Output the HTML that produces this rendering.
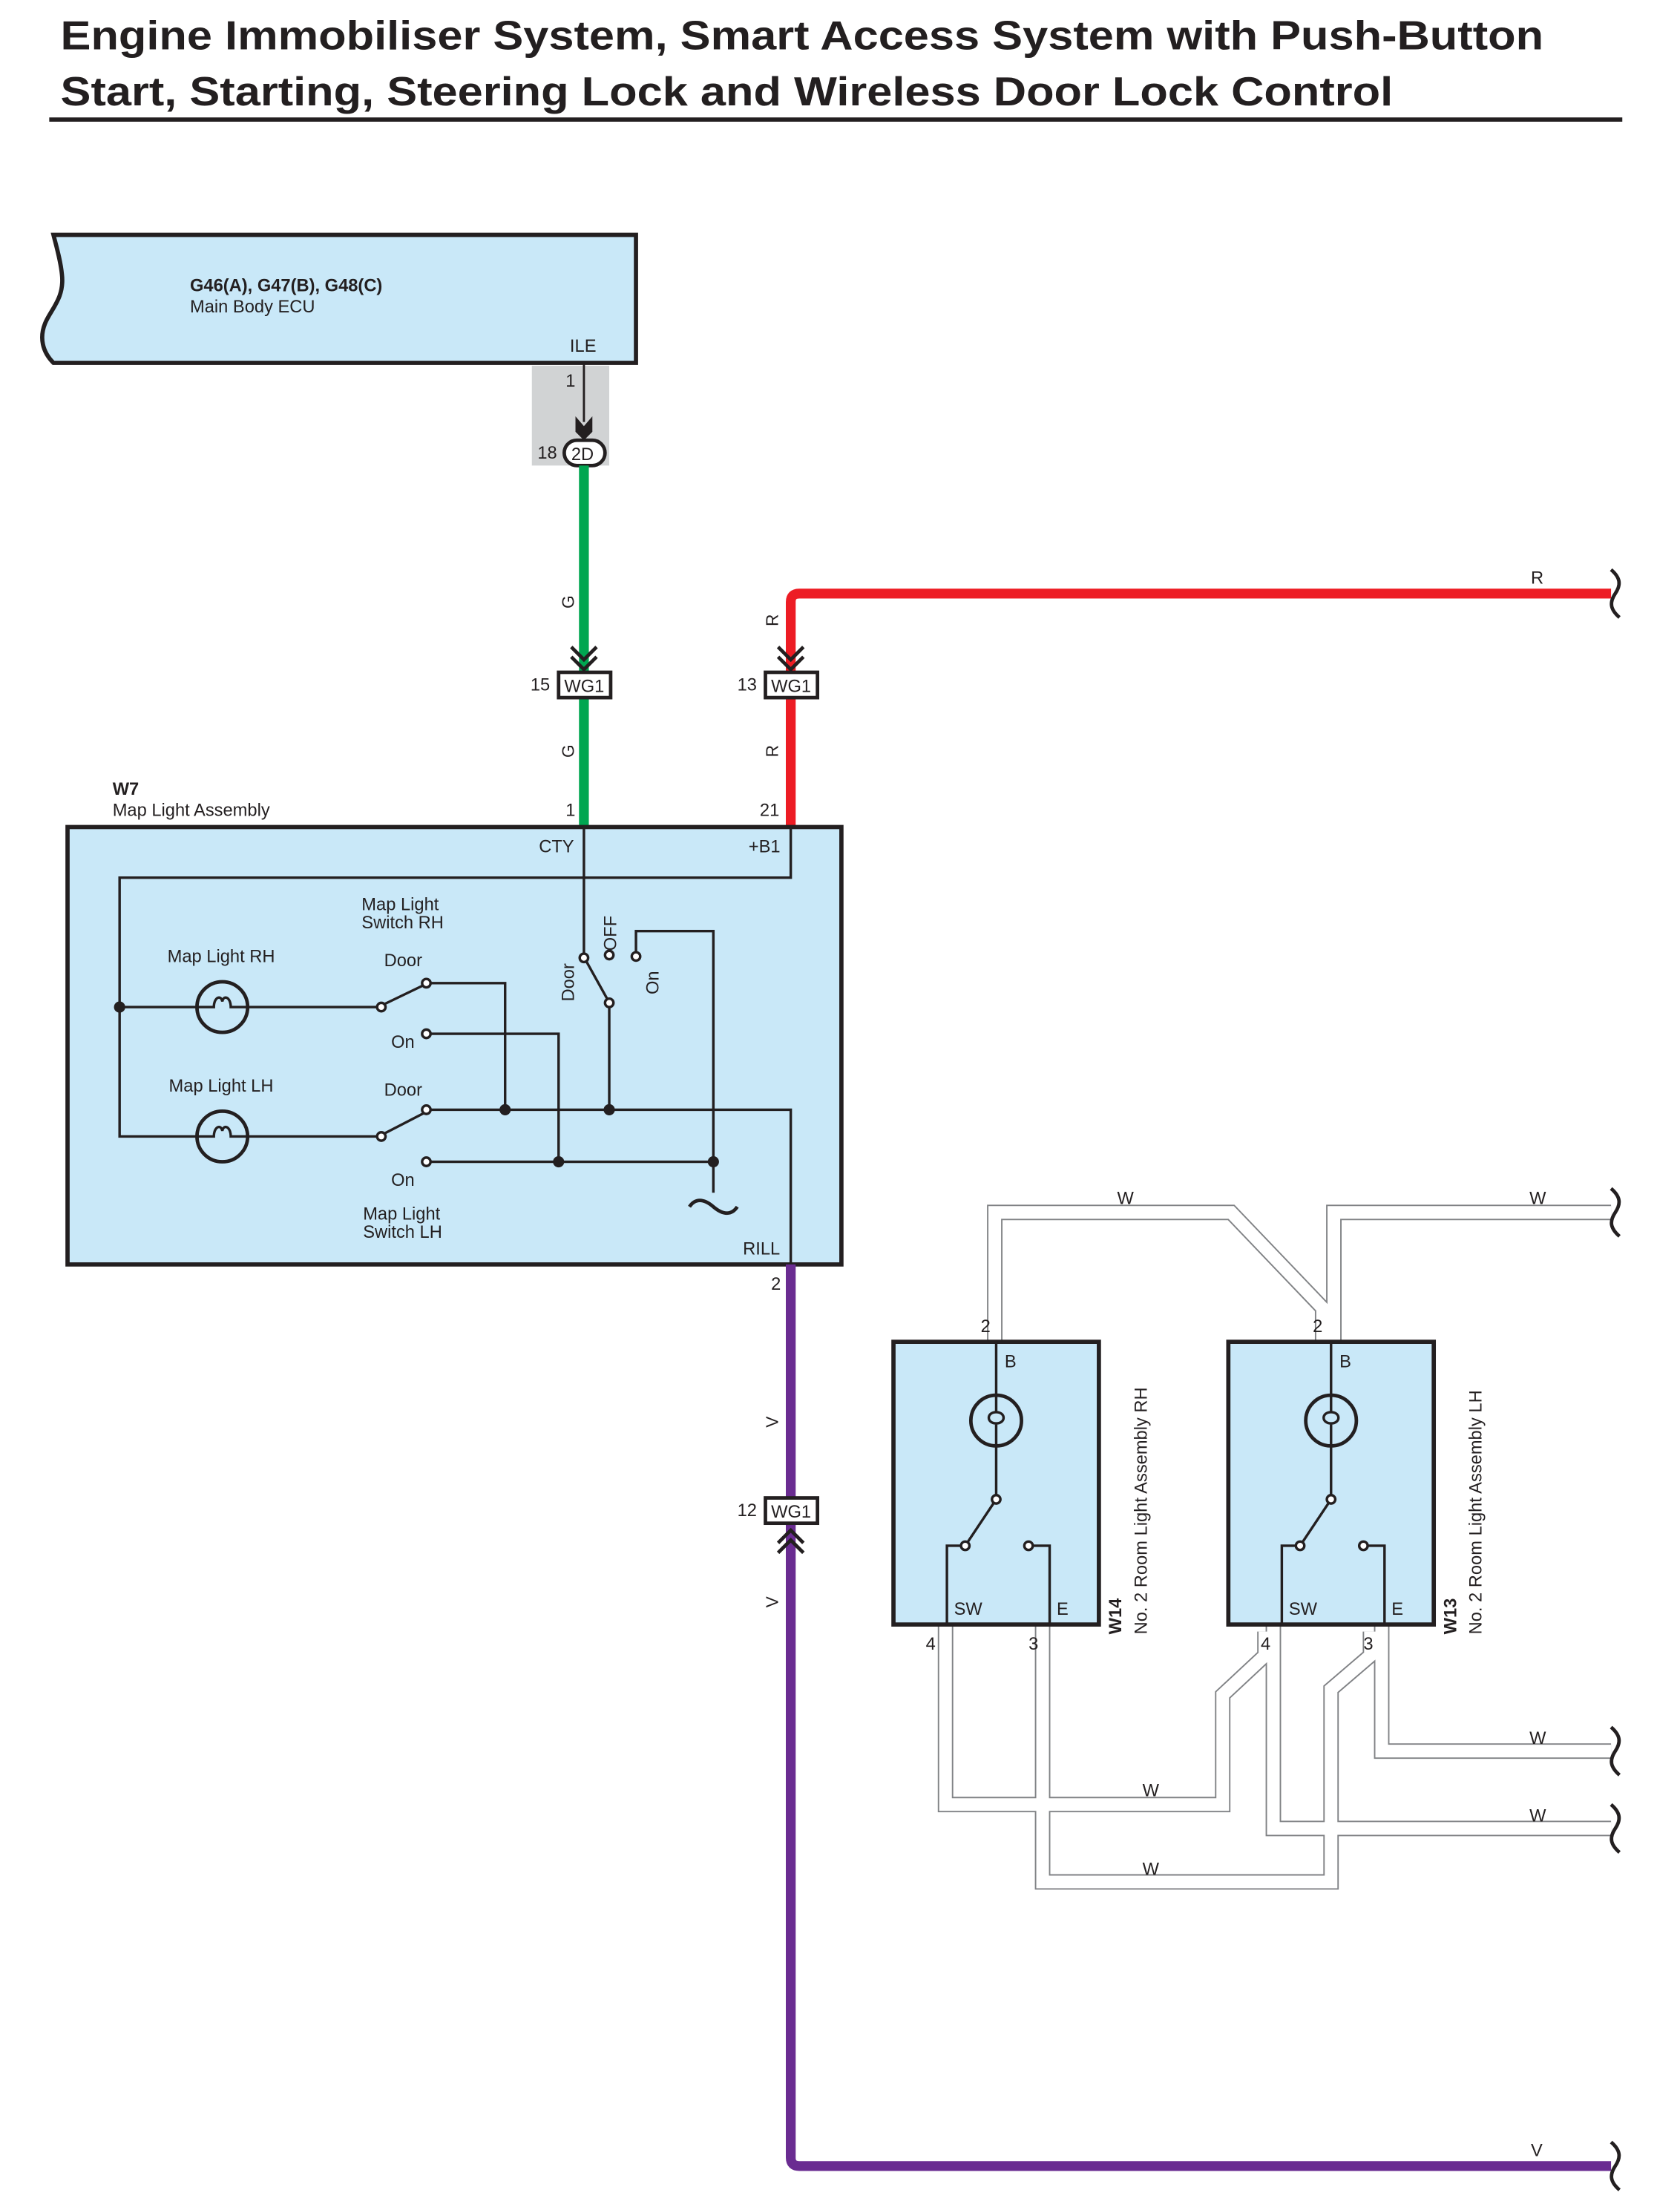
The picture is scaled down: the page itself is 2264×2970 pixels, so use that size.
<!DOCTYPE html>
<html><head><meta charset="utf-8"><style>
html,body{margin:0;padding:0;background:#fff}
svg{display:block}
text{font-family:"Liberation Sans",Arial,sans-serif;fill:#231f20}
</style></head><body>
<svg width="2264" height="2970" viewBox="0 0 1194 1567" preserveAspectRatio="none" xmlns="http://www.w3.org/2000/svg">
<!-- Title -->
<text x="43" y="35" font-size="29" font-weight="bold" textLength="1054" lengthAdjust="spacingAndGlyphs">Engine Immobiliser System, Smart Access System with Push-Button</text>
<text x="43" y="75" font-size="29" font-weight="bold" textLength="947" lengthAdjust="spacingAndGlyphs">Start, Starting, Steering Lock and Wireless Door Lock Control</text>
<line x1="35" y1="85" x2="1153" y2="85" stroke="#231f20" stroke-width="3"/>

<!-- ECU -->
<path d="M38,167 L452,167 L452,258 L38,258 C30,250 28,240 32,230 C36,220 46,212 44,195 C43,185 40,175 38,167 Z" fill="#c9e8f8" stroke="#231f20" stroke-width="3"/>
<text x="135" y="207" font-size="12.5" font-weight="bold">G46(A), G47(B), G48(C)</text>
<text x="135" y="222" font-size="12.5">Main Body ECU</text>
<text x="405" y="250" font-size="12.5">ILE</text>
<rect x="378" y="260" width="55" height="71" fill="#d1d3d4"/>
<line x1="415" y1="258" x2="415" y2="300" stroke="#231f20" stroke-width="1.5"/>
<path d="M409,296 L415,303 L421,296 L421,307 L415,313 L409,307 Z" fill="#231f20"/>
<text x="402" y="275" font-size="12.5">1</text>
<text x="382" y="326" font-size="12.5">18</text>
<rect x="401" y="313" width="29" height="18" rx="9" fill="#fff" stroke="#231f20" stroke-width="2.5"/>
<text x="406" y="327" font-size="12.5">2D</text>

<!-- Green wire -->
<line x1="415" y1="331" x2="415" y2="478" stroke="#00a651" stroke-width="7"/>
<line x1="415" y1="496" x2="415" y2="588" stroke="#00a651" stroke-width="7"/>
<path d="M406,460 L415,469 L424,460 M406,467 L415,476 L424,467" fill="none" stroke="#231f20" stroke-width="2.5"/>
<rect x="397" y="478" width="37" height="18" fill="#fff" stroke="#231f20" stroke-width="2.5"/>
<text x="401" y="492" font-size="12.5">WG1</text>
<text x="377" y="491" font-size="12.5">15</text>
<text transform="translate(408,428) rotate(-90)" font-size="12" text-anchor="middle">G</text>
<text transform="translate(408,534) rotate(-90)" font-size="12" text-anchor="middle">G</text>

<!-- Red wire -->
<path d="M562,478 L562,428 Q562,422 568,422 L1145,422" fill="none" stroke="#ed1c24" stroke-width="7"/>
<line x1="562" y1="496" x2="562" y2="588" stroke="#ed1c24" stroke-width="7"/>
<path d="M553,460 L562,469 L571,460 M553,467 L562,476 L571,467" fill="none" stroke="#231f20" stroke-width="2.5"/>
<rect x="544" y="478" width="37" height="18" fill="#fff" stroke="#231f20" stroke-width="2.5"/>
<text x="548" y="492" font-size="12.5">WG1</text>
<text x="524" y="491" font-size="12.5">13</text>
<text transform="translate(553,441) rotate(-90)" font-size="12" text-anchor="middle">R</text>
<text transform="translate(553,534) rotate(-90)" font-size="12" text-anchor="middle">R</text>
<text x="1088" y="415" font-size="12.5">R</text>
<path d="M1145,405 C1152,411 1152,416 1148,422 C1144,428 1144,433 1151,439" fill="none" stroke="#231f20" stroke-width="2.5"/>

<!-- W7 -->
<text x="80" y="565" font-size="12.5" font-weight="bold">W7</text>
<text x="80" y="580" font-size="12.5">Map Light Assembly</text>
<text x="402" y="580" font-size="12.5">1</text>
<text x="540" y="580" font-size="12.5">21</text>
<rect x="48" y="588" width="550" height="311" fill="#c9e8f8" stroke="#231f20" stroke-width="3"/>
<text x="383" y="606" font-size="12.5">CTY</text>
<text x="532" y="606" font-size="12.5">+B1</text>
<text x="528" y="892" font-size="12.5">RILL</text>
<g fill="none" stroke="#231f20" stroke-width="1.8">
<path d="M562,588 L562,624 L85,624 L85,808 L140,808"/>
<path d="M85,716 L140,716"/>
<path d="M176,716 L268,716 M176,808 L268,808"/>
<circle cx="158" cy="716" r="18" stroke-width="2.5"/>
<circle cx="158" cy="808" r="18" stroke-width="2.5"/>
<path d="M140,716 L152,716 C152,709 157,707 158,712 C159,707 164,709 164,716 L176,716"/>
<path d="M140,808 L152,808 C152,801 157,799 158,804 C159,799 164,801 164,808 L176,808"/>
<path d="M273,714 L302,700 M273,806 L302,791"/>
<path d="M306,699 L359,699 L359,789"/>
<path d="M306,735 L397,735 L397,826"/>
<path d="M306,789 L562,789 L562,899"/>
<path d="M306,826 L507,826"/>
<path d="M415,588 L415,678 M417,684 L432,711 M433,716 L433,789"/>
<path d="M452,677 L452,662 L507,662 L507,848"/>
<path d="M490,858 C494,852 500,852 507,858 C514,864 520,864 524,858" stroke-width="2.5"/>
</g>
<g fill="#fff" stroke="#231f20" stroke-width="1.8">
<circle cx="271" cy="716" r="3"/><circle cx="271" cy="808" r="3"/>
<circle cx="303" cy="699" r="3"/><circle cx="303" cy="735" r="3"/>
<circle cx="303" cy="789" r="3"/><circle cx="303" cy="826" r="3"/>
<circle cx="415" cy="681" r="3"/><circle cx="433" cy="713" r="3"/>
<circle cx="433" cy="679" r="3"/><circle cx="452" cy="680" r="3"/>
</g>
<g fill="#231f20">
<circle cx="85" cy="716" r="4"/><circle cx="359" cy="789" r="4"/><circle cx="433" cy="789" r="4"/>
<circle cx="397" cy="826" r="4"/><circle cx="507" cy="826" r="4"/>
</g>
<text x="257" y="647" font-size="12.5">Map Light</text>
<text x="257" y="660" font-size="12.5">Switch RH</text>
<text x="119" y="684" font-size="12.5">Map Light RH</text>
<text x="273" y="687" font-size="12.5">Door</text>
<text x="278" y="745" font-size="12.5">On</text>
<text x="120" y="776" font-size="12.5">Map Light LH</text>
<text x="273" y="779" font-size="12.5">Door</text>
<text x="278" y="843" font-size="12.5">On</text>
<text x="258" y="867" font-size="12.5">Map Light</text>
<text x="258" y="880" font-size="12.5">Switch LH</text>
<text transform="translate(408,712) rotate(-90)" font-size="12.5">Door</text>
<text transform="translate(438,676) rotate(-90)" font-size="12.5">OFF</text>
<text transform="translate(468,707) rotate(-90)" font-size="12.5">On</text>

<!-- Purple wire -->
<path d="M562,899 L562,1065 M562,1083 L562,1534 Q562,1540 568,1540 L1145,1540" fill="none" stroke="#6a2c91" stroke-width="7"/>
<path d="M553,1097 L562,1088 L571,1097 M553,1104 L562,1095 L571,1104" fill="none" stroke="#231f20" stroke-width="2.5"/>
<rect x="544" y="1065" width="37" height="18" fill="#fff" stroke="#231f20" stroke-width="2.5"/>
<text x="548" y="1079" font-size="12.5">WG1</text>
<text x="524" y="1078" font-size="12.5">12</text>
<text x="548" y="917" font-size="12.5">2</text>
<text transform="translate(553,1011) rotate(-90)" font-size="12" text-anchor="middle">V</text>
<text transform="translate(553,1139) rotate(-90)" font-size="12" text-anchor="middle">V</text>
<text x="1088" y="1533" font-size="12.5">V</text>
<path d="M1145,1523 C1152,1529 1152,1534 1148,1540 C1144,1546 1144,1551 1151,1557" fill="none" stroke="#231f20" stroke-width="2.5"/>

<!-- White wires -->
<g fill="none" stroke-linejoin="miter">
<g stroke="#808285" stroke-width="11">
<path d="M707,954 L707,862 L875,862 L940,930 L940,954"/>
<path d="M948,954 L948,862 L1145,862"/>
<path d="M672,1155 L672,1283 L869,1283 L869,1205 L899,1177 L899,1160"/>
<path d="M905,1155 L905,1300 L1145,1300"/>
<path d="M741,1155 L741,1338 L946,1338 L946,1201 L974,1177 L974,1160"/>
<path d="M982,1155 L982,1245 L1145,1245"/>
</g>
<g stroke="#fff" stroke-width="9">
<path d="M707,954 L707,862 L875,862 L940,930 L940,954"/>
<path d="M948,954 L948,862 L1145,862"/>
<path d="M672,1155 L672,1283 L869,1283 L869,1205 L899,1177 L899,1160"/>
<path d="M905,1155 L905,1300 L1145,1300"/>
<path d="M741,1155 L741,1338 L946,1338 L946,1201 L974,1177 L974,1160"/>
<path d="M982,1155 L982,1245 L1145,1245"/>
</g>
</g>
<text x="794" y="856" font-size="12.5">W</text>
<text x="1087" y="856" font-size="12.5">W</text>
<text x="1087" y="1240" font-size="12.5">W</text>
<text x="1087" y="1295" font-size="12.5">W</text>
<text x="812" y="1277" font-size="12.5">W</text>
<text x="812" y="1333" font-size="12.5">W</text>
<g fill="none" stroke="#231f20" stroke-width="2.5">
<path d="M1145,845 C1152,851 1152,856 1148,862 C1144,868 1144,873 1151,879"/>
<path d="M1145,1228 C1152,1234 1152,1239 1148,1245 C1144,1251 1144,1256 1151,1262"/>
<path d="M1145,1283 C1152,1289 1152,1294 1148,1300 C1144,1306 1144,1311 1151,1317"/>
</g>

<!-- W14 -->
<g id="rl">
<rect x="635" y="954" width="146" height="201" fill="#c9e8f8" stroke="#231f20" stroke-width="3"/>
<g fill="none" stroke="#231f20" stroke-width="1.8">
<path d="M708,954 L708,992 M708,1028 L708,1063"/>
<circle cx="708" cy="1010" r="18" stroke-width="2.5"/>
<path d="M708,992 L708,1004 C701,1004 701,1012 708,1012 C715,1012 715,1004 708,1004 M708,1012 L708,1028"/>
<path d="M706,1069 L688,1096"/>
<path d="M683,1099 L673,1099 L673,1155"/>
<path d="M734,1099 L746,1099 L746,1155"/>
</g>
<g fill="#fff" stroke="#231f20" stroke-width="1.8">
<circle cx="708" cy="1066" r="3"/><circle cx="686" cy="1099" r="3"/><circle cx="731" cy="1099" r="3"/>
</g>
<text x="714" y="972" font-size="12.5">B</text>
<text x="678" y="1148" font-size="12.5">SW</text>
<text x="751" y="1148" font-size="12.5">E</text>
</g>
<text x="697" y="947" font-size="12.5">2</text>
<text x="658" y="1173" font-size="12.5">4</text>
<text x="731" y="1173" font-size="12.5">3</text>
<text transform="translate(797,1162) rotate(-90)" font-size="12.5" font-weight="bold">W14</text>
<text transform="translate(815,1162) rotate(-90)" font-size="12.5">No.  2 Room Light Assembly RH</text>

<!-- W13 -->
<use href="#rl" transform="translate(238,0)"/>
<text x="933" y="947" font-size="12.5">2</text>
<text x="896" y="1173" font-size="12.5">4</text>
<text x="969" y="1173" font-size="12.5">3</text>
<text transform="translate(1035,1162) rotate(-90)" font-size="12.5" font-weight="bold">W13</text>
<text transform="translate(1053,1162) rotate(-90)" font-size="12.5">No.  2 Room Light Assembly LH</text>
</svg>
</body></html>
